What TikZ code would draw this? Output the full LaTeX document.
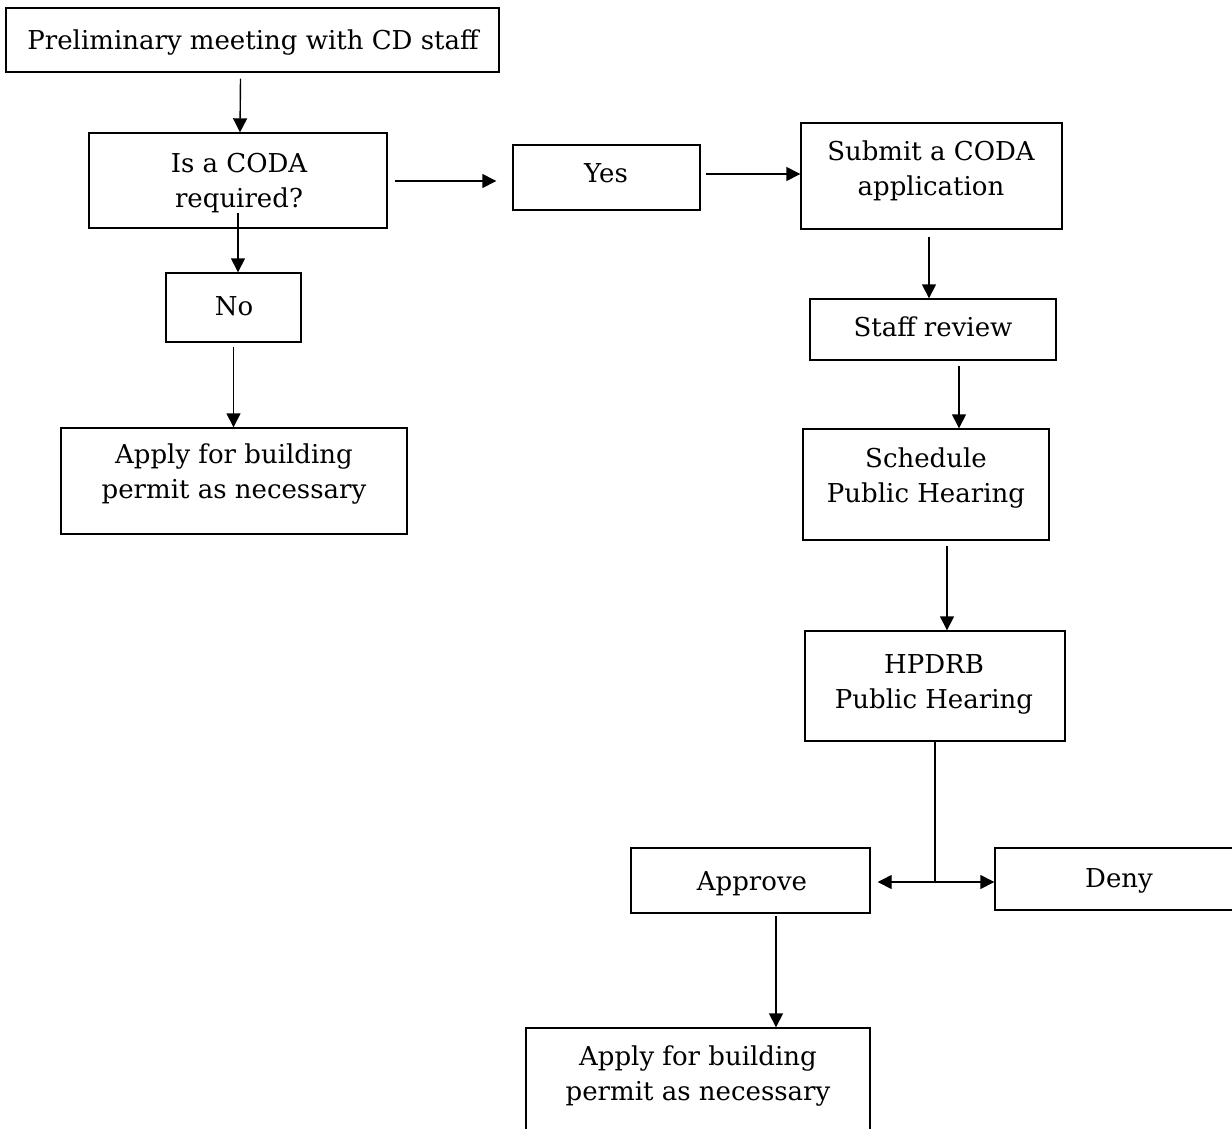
\documentclass[tikz,border=0pt]{standalone}
\usepackage{fontspec}
\setmainfont{DejaVu Serif}
\usetikzlibrary{arrows.meta,calc}
\begin{document}
\begin{tikzpicture}[x=1pt,y=-1pt,
  box/.style={draw,line width=1.4pt,inner sep=0pt},
  txt/.style={inner sep=0pt,align=center,anchor=north,text height=20pt,
    font=\fontsize{26}{35}\selectfont},
  arr/.style={line width=1.4pt,-{Triangle[length=14pt,width=14pt]}},
  plain/.style={line width=1.4pt}]
\clip (0,0) rectangle (1232,1128);
\fill[white] (0,0) rectangle (1232,1128);
% boxes (center, width, height)
\node[box,minimum width=493,minimum height=64] (prelim) at (252.5,40) {};
\node[box,minimum width=298,minimum height=95] (coda) at (238,180.5) {};
\node[box,minimum width=187,minimum height=65] (yes) at (606.5,177.5) {};
\node[box,minimum width=261,minimum height=106] (submit) at (931.5,176) {};
\node[box,minimum width=135,minimum height=69] (no) at (233.5,307.5) {};
\node[box,minimum width=346,minimum height=106] (apply1) at (234,481) {};
\node[box,minimum width=246,minimum height=61] (staff) at (933,329.5) {};
\node[box,minimum width=246,minimum height=111] (schedule) at (926,484.5) {};
\node[box,minimum width=260,minimum height=110] (hpdrb) at (935,686) {};
\node[box,minimum width=239,minimum height=65] (approve) at (750.5,880.5) {};
\node[box,minimum width=240,minimum height=62] (deny) at (1115,879) {};
\node[box,minimum width=344,minimum height=120] (apply2) at (698,1088) {};
% texts (placed at last baseline - 20)
\node[txt] (tprelim) at (253,29) {Preliminary meeting with CD staff};
\node[txt] (tcoda) at (239,187) {Is a CODA\\required?};
\node[txt] (tyes) at (606,162) {Yes};
\node[txt] (tsubmit) at (931,175) {Submit a CODA\\application};
\node[txt] (tno) at (234,295) {No};
\node[txt] (tapply1) at (234,478) {Apply for building\\permit as necessary};
\node[txt] (tstaff) at (933,316) {Staff review};
\node[txt] (tschedule) at (926,482) {Schedule\\Public Hearing};
\node[txt] (thpdrb) at (934,688) {HPDRB\\Public Hearing};
\node[txt] (tapprove) at (752,870) {Approve};
\node[txt] (tdeny) at (1119,867) {Deny};
\node[txt] (tapply2) at (698,1080) {Apply for building\\permit as necessary};
\coordinate (split) at (935,882);
% connectors
\draw[arr] ($(prelim.south)+(-12,6)$) -- ($(coda.north)+(2,0)$);
\draw[arr] ($(coda.south)+(0,-16)$) -- ($(no.north)+(4.5,0)$);
\draw[arr] ($(no.south)+(0,4)$) -- ($(apply1.north)+(-0.5,0)$);
\draw[arr] ($(coda.east)+(7,0.5)$) -- ($(yes.west)+(-16,3.5)$);
\draw[arr] ($(yes.east)+(5,-3.5)$) -- ($(submit.west)+(0,-2)$);
\draw[arr] ($(submit.south)+(-2.5,7)$) -- ($(staff.north)+(-4,0)$);
\draw[arr] ($(staff.south)+(26,5)$) -- ($(schedule.north)+(33,0)$);
\draw[arr] ($(schedule.south)+(21,5)$) -- ($(hpdrb.north)+(12,0)$);
\draw[plain] (hpdrb.south) -- (split);
\draw[arr] (split) -- ($(split -| approve.east)+(7,0)$);
\draw[arr] (split) -- (split -| deny.west);
\draw[arr] ($(approve.south)+(25.5,2)$) -- ($(apply2.north)+(78,0)$);
\end{tikzpicture}
\end{document}
